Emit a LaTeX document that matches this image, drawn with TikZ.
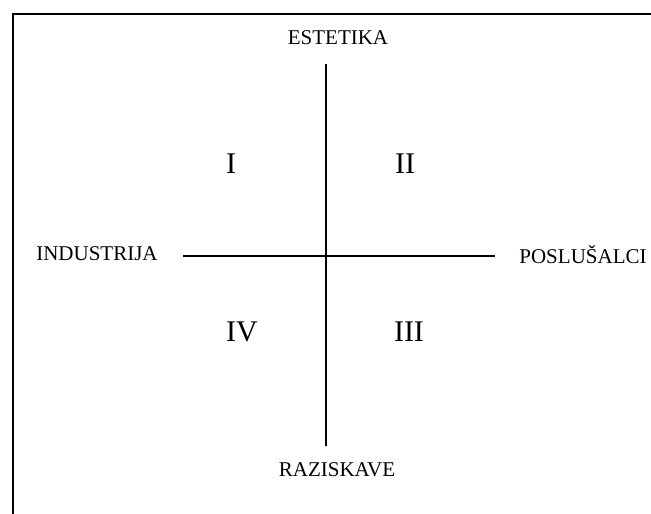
\documentclass[tikz,border=0pt]{standalone}
\usepackage{fontspec}
\setmainfont{Liberation Serif}
\usetikzlibrary{positioning}

\begin{document}
\begin{tikzpicture}[x=1pt, y=-1pt,
  axislabel/.style={font=\fontsize{21}{25}\selectfont, inner sep=0pt},
  quadrant/.style={font=\fontsize{30}{34}\selectfont, inner sep=0pt},
  axis/.style={line width=1.3pt},
  frame/.style={line width=2.4pt}]
  \useasboundingbox (0,0) rectangle (651,514);
  \draw[frame] (13,514) -- (13,14) -- (651,14);
  % axes
  \coordinate (top) at (326,64);
  \coordinate (bottom) at (326,446);
  \coordinate (left) at (183,256);
  \coordinate (right) at (495,256);
  \draw[axis] (top) -- (bottom);
  \draw[axis] (left) -- (right);
  % labels
  \node[axislabel] (est) at (338,38) {ESTETIKA};
  \node[axislabel] (raz) at (337,470) {RAZISKAVE};
  \node[axislabel] (ind) at (97,254) {INDUSTRIJA};
  \node[axislabel] (pos) at (583,255) {POSLUŠALCI};
  % quadrants
  \node[quadrant] (q1) at (231,164) {I};
  \node[quadrant] (q2) at (405,164) {II};
  \node[quadrant] (q3) at (409,332) {III};
  \node[quadrant] (q4) at (242,332) {IV};
\end{tikzpicture}
\end{document}
